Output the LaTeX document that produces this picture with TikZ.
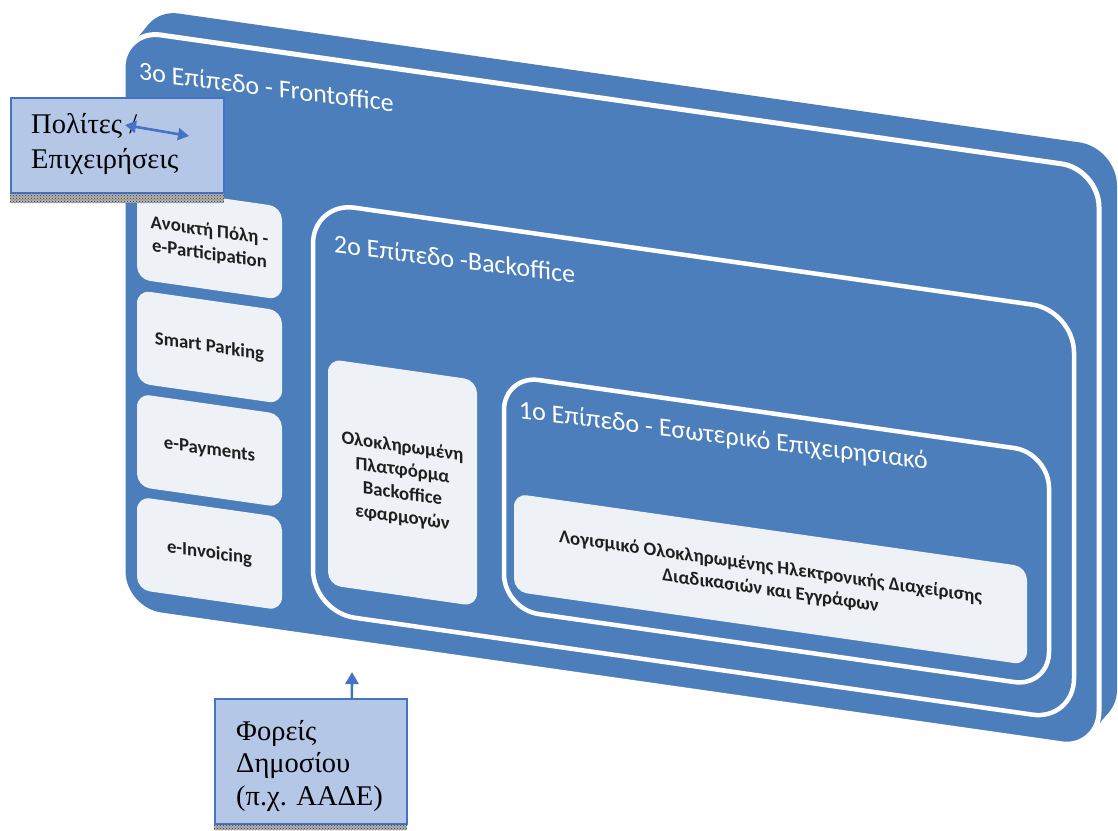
\documentclass[tikz,border=0pt]{standalone}
\usepackage{fontspec}
\setmainfont{Liberation Serif}
\newfontfamily\calfont{Carlito}
\usetikzlibrary{arrows.meta,patterns}
\definecolor{slab}{HTML}{4B7EBB}
\definecolor{pale}{HTML}{EEF2F7}
\definecolor{obfill}{HTML}{B4C7E7}
\definecolor{obline}{HTML}{4472C4}
\definecolor{ink}{HTML}{1F1F1F}
\begin{document}
\begin{tikzpicture}[x=1pt,y=1pt,
  lvl/.style={draw=white,line width=4.5pt,rounded corners=#1,inner sep=0pt,outer sep=0pt,transform shape},
  card/.style={fill=pale,rounded corners=13pt,inner sep=0pt,outer sep=0pt,transform shape,
    font=\calfont\bfseries\fontsize{18.8}{23.5}\selectfont,text=ink,align=center},
  ttl/.style={anchor=base west,inner sep=0pt,text=white,font=\calfont\fontsize{26}{30}\selectfont,transform shape,rotate=1},
  obox/.style={fill=obfill,draw=obline,line width=2.2pt,inner sep=0pt,anchor=north west},
  otext/.style={anchor=base west,inner sep=0pt,font=\fontsize{28.5}{34}\selectfont},
  hatchbg/.style={fill=black!30},
  hatch/.style={pattern=crosshatch dots,pattern color=black!80},
  barrow/.style={draw=obline,line width=2.6pt}
]
\useasboundingbox (0,0) rectangle (1118,-830);
\begin{scope}[cm={1,-0.143,0,1,(0,0)}]
  % back plate of the slab
  \fill[slab,rounded corners=38pt] (141,12) rectangle (1117,-568);
  % side faces joining front and back
  \fill[slab] (161,-50) -- (130.6,-27.2) -- (148.6,-3.2) -- (179,-26) -- cycle;
  \fill[slab] (1061,-554) -- (1091.4,-576.8) -- (1109.4,-552.8) -- (1079,-530) -- cycle;
  % front face
  \node[draw=white,fill=slab,line width=5pt,rounded corners=38pt,minimum width=976,minimum height=580,
        inner sep=0pt,transform shape] (front) at (611,-302) {};
  % level outlines
  \node[lvl=42pt,minimum width=761,minimum height=410] (l2) at (693.5,-362) {};
  \node[lvl=35pt,minimum width=545,minimum height=234] (l1) at (776.5,-420) {};
  % titles
  \node[ttl] (t3) at (139,-60) {3ο Επίπεδο - Frontoffice};
  \node[ttl] (t2) at (334,-205) {2ο Επίπεδο -Backoffice};
  \node[ttl] (t1) at (519,-344) {1ο Επίπεδο - Εσωτερικό Επιχειρησιακό};
  % cards
  \node[card,minimum width=145,minimum height=93] (c1) at (209.5,-213) {Ανοικτή Πόλη -\\e-Participation};
  \node[card,minimum width=145,minimum height=93] (c2) at (209.5,-317) {Smart Parking};
  \node[card,minimum width=145,minimum height=93] (c3) at (209.5,-420.5) {e-Payments};
  \node[card,minimum width=145,minimum height=93] (c4) at (209.5,-523.5) {e-Invoicing};
  \node[card,minimum width=149,minimum height=226] (bo) at (402.5,-425) {Ολοκληρωμένη\\Πλατφόρμα\\Backoffice\\εφαρμογών};
  \node[card,minimum width=513,minimum height=98] (sw) at (770.5,-469)
    {Λογισμικό Ολοκληρωμένης Ηλεκτρονικής Διαχείρισης\\Διαδικασιών και Εγγράφων};
\end{scope}
% overlay boxes
\node[obox,minimum width=213,minimum height=95] (pol) at (10,-97) {};
\fill[hatchbg] (10,-193.5) rectangle (224,-203);
\fill[hatch] (10,-193.5) rectangle (224,-203);
\node[otext] (pol1) at (31,-133) {Πολίτες /};
\node[otext] (pol2) at (31,-168) {Επιχειρήσεις};
\coordinate (pa) at (125,-125);
\coordinate (pb) at (189,-136);
\draw[barrow,{Triangle[length=11pt,width=12pt]}-{Triangle[length=11pt,width=12pt]}] (pa) -- (pb);
\node[obox,minimum width=192.4,minimum height=125] (fo) at (213.6,-698) {};
\fill[hatchbg] (213.6,-824.5) rectangle (407,-830);
\fill[hatch] (213.6,-824.5) rectangle (407,-830);
\node[otext] (fo1) at (236,-740) {Φορείς};
\node[otext] (fo2) at (236,-772.5) {Δημοσίου};
\node[otext] (fo3) at (236,-805) {(π.χ. ΑΑΔΕ)};
\coordinate (fb) at (352,-672);
\draw[barrow,-{Triangle[length=12pt,width=13pt]}] ([xshift=41pt]fo.north) -- (fb);
\end{tikzpicture}
\end{document}
